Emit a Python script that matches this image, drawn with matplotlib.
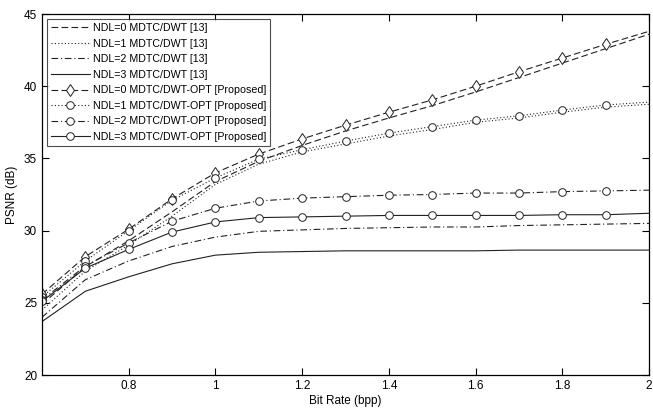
import numpy as np
import matplotlib
matplotlib.use("Agg")
import matplotlib.pyplot as plt

plt.rcParams['font.family'] = ['Liberation Sans', 'DejaVu Sans']

# bit rate (bpp)
rate = [0.6, 0.7, 0.8, 0.9, 1.0, 1.1, 1.2, 1.3, 1.4, 1.5, 1.6, 1.7, 1.8, 1.9, 2.0]

# MDTC/DWT [13]
ref_ndl0 = [24.9, 27.5, 29.3, 31.3, 33.4, 34.8, 35.9, 36.9, 37.8, 38.65, 39.6, 40.6, 41.6, 42.6, 43.6]
ref_ndl1 = [24.5, 27.2, 29.0, 31.0, 33.2, 34.6, 35.45, 36.0, 36.55, 37.0, 37.5, 37.8, 38.2, 38.55, 38.75]
ref_ndl2 = [24.0, 26.6, 27.9, 28.9, 29.55, 29.95, 30.05, 30.15, 30.2, 30.25, 30.25, 30.35, 30.4, 30.45, 30.5]
ref_ndl3 = [23.7, 25.8, 26.8, 27.7, 28.3, 28.5, 28.55, 28.6, 28.6, 28.6, 28.6, 28.65, 28.65, 28.65, 28.65]

# MDTC/DWT-OPT [Proposed]
opt_ndl0 = [25.6, 28.2, 30.1, 32.2, 34.0, 35.3, 36.35, 37.3, 38.2, 39.05, 40.0, 41.0, 41.95, 42.9, 43.8]
opt_ndl1 = [25.4, 27.9, 30.0, 32.1, 33.65, 34.95, 35.6, 36.2, 36.75, 37.2, 37.65, 37.95, 38.35, 38.7, 38.9]
opt_ndl2 = [25.2, 27.55, 29.15, 30.65, 31.55, 32.05, 32.25, 32.35, 32.45, 32.5, 32.6, 32.6, 32.7, 32.75, 32.8]
opt_ndl3 = [25.1, 27.4, 28.7, 29.9, 30.6, 30.9, 30.95, 31.0, 31.05, 31.05, 31.05, 31.05, 31.1, 31.1, 31.2]

fig = plt.figure(figsize=(6.53, 4.12), dpi=100)
ax = fig.add_axes([0.0643, 0.0898, 0.9296, 0.8762])

lw = 0.8
ink = '#222222'
dash = (0, (6, 3))
dot = (0, (1, 2))
dashdot = (0, (6, 2.5, 1, 2.5))
mk = dict(mfc='white', mec=ink, markersize=5.5, mew=0.7, markevery=slice(0, 14))

ax.plot(rate, ref_ndl0, color=ink, lw=lw, ls=dash, label='NDL=0 MDTC/DWT [13]')
ax.plot(rate, ref_ndl1, color=ink, lw=lw, ls=dot, label='NDL=1 MDTC/DWT [13]')
ax.plot(rate, ref_ndl2, color=ink, lw=lw, ls=dashdot, label='NDL=2 MDTC/DWT [13]')
ax.plot(rate, ref_ndl3, color=ink, lw=lw, ls='-', label='NDL=3 MDTC/DWT [13]')
ax.plot(rate, opt_ndl0, color=ink, lw=lw, ls=dash, marker='d', label='NDL=0 MDTC/DWT-OPT [Proposed]',
        **{**mk, 'markersize': 6.5})
ax.plot(rate, opt_ndl1, color=ink, lw=lw, ls=dot, marker='o', label='NDL=1 MDTC/DWT-OPT [Proposed]', **mk)
ax.plot(rate, opt_ndl2, color=ink, lw=lw, ls=dashdot, marker='o', label='NDL=2 MDTC/DWT-OPT [Proposed]', **mk)
ax.plot(rate, opt_ndl3, color=ink, lw=lw, ls='-', marker='o', label='NDL=3 MDTC/DWT-OPT [Proposed]', **mk)

ax.set_xlim(0.6, 2.0)
ax.set_ylim(20, 45)
ax.set_xticks([0.8, 1.0, 1.2, 1.4, 1.6, 1.8, 2.0])
ax.set_xticklabels(['0.8', '1', '1.2', '1.4', '1.6', '1.8', '2'])
ax.set_yticks([20, 25, 30, 35, 40, 45])
ax.tick_params(direction='in', top=True, right=True, labelsize=8.5, length=5, width=0.8)
for s in ax.spines.values():
    s.set_linewidth(0.9)

ax.set_xlabel('Bit Rate (bpp)', fontsize=8.5, labelpad=2)
ax.set_ylabel('PSNR (dB)', fontsize=8.5, labelpad=4)

leg = ax.legend(loc='upper left', fontsize=7.7, handlelength=3.6, labelspacing=0.52,
                borderpad=0.35, handletextpad=0.3, borderaxespad=0.5, fancybox=False)
leg.get_frame().set_edgecolor(ink)
leg.get_frame().set_linewidth(0.8)

fig.savefig('out.png', dpi=100)
